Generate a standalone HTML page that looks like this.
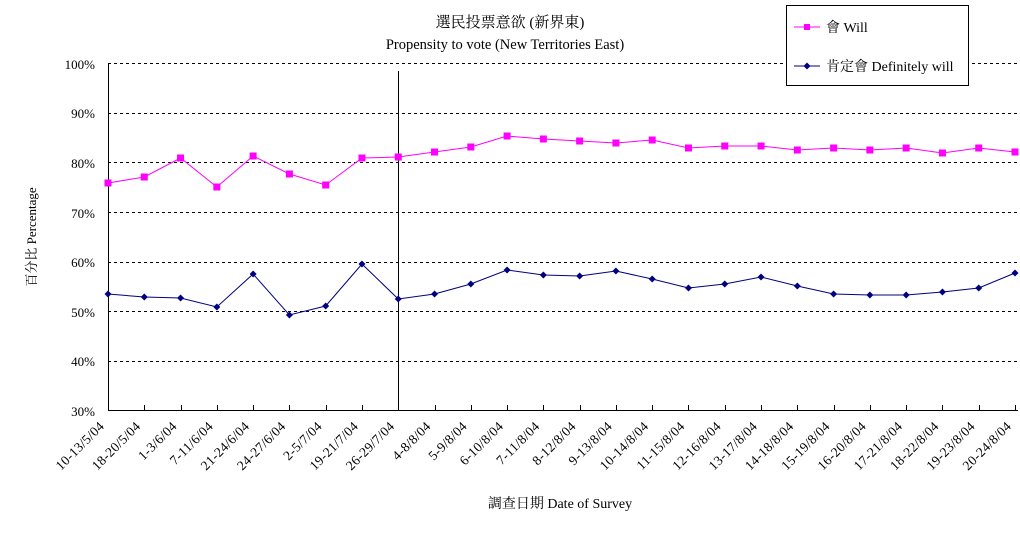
<!DOCTYPE html>
<html><head><meta charset="utf-8"><style>
body{margin:0;background:#fff}
svg text{font-family:"Liberation Serif","Noto Serif CJK SC","Noto Sans CJK TC",serif;fill:#000}
</style></head><body>
<svg width="1020" height="533" xmlns="http://www.w3.org/2000/svg">
<text x="510" y="27" font-size="15" text-anchor="middle">選民投票意欲 (新界東)</text>
<text x="505" y="49" font-size="14.5" text-anchor="middle">Propensity to vote (New Territories East)</text>
<g stroke="#000" stroke-dasharray="3,3" stroke-width="1">
<line x1="108" y1="63.5" x2="1018" y2="63.5"/><line x1="108" y1="113.5" x2="1018" y2="113.5"/>
<line x1="108" y1="162.5" x2="1018" y2="162.5"/><line x1="108" y1="212.5" x2="1018" y2="212.5"/>
<line x1="108" y1="262.5" x2="1018" y2="262.5"/><line x1="108" y1="311.5" x2="1018" y2="311.5"/>
<line x1="108" y1="361.5" x2="1018" y2="361.5"/>
</g>
<rect x="786.5" y="5.5" width="182" height="80" fill="#fff" stroke="#000"/>
<line x1="108.5" y1="63" x2="108.5" y2="411" stroke="#000"/>
<line x1="108" y1="410.5" x2="1018" y2="410.5" stroke="#000"/>
<line x1="398.5" y1="71" x2="398.5" y2="408" stroke="#000"/>
<g font-size="13" text-anchor="end">
<text x="95" y="69">100%</text><text x="95" y="118">90%</text><text x="95" y="168">80%</text>
<text x="95" y="218">70%</text><text x="95" y="267">60%</text><text x="95" y="317">50%</text>
<text x="95" y="366">40%</text><text x="95" y="416">30%</text>
</g>
<text transform="translate(36,237) rotate(-90)" font-size="13" text-anchor="middle">百分比 Percentage</text>
<text x="560" y="508" font-size="14" text-anchor="middle">調查日期 Date of Survey</text>
<g id="ticks" stroke="#000"></g>
<g id="labels" font-size="13.5" text-anchor="end" letter-spacing="0.3"></g>
<polyline id="w" fill="none" stroke="#ff00ff" stroke-width="1"/>
<polyline id="d" fill="none" stroke="#000080" stroke-width="1"/>
<g id="wm" fill="#ff00ff"></g><g id="dm" fill="#000080"></g>
<line x1="794" y1="27" x2="820" y2="27" stroke="#ff00ff"/><rect x="804" y="24" width="6" height="6" fill="#ff00ff"/>
<text x="826" y="32" font-size="14">會 Will</text>
<line x1="794" y1="66" x2="820" y2="66" stroke="#000080"/><path d="M807 62.5L810.5 66L807 69.5L803.5 66Z" fill="#000080"/>
<text x="826" y="71" font-size="14">肯定會 Definitely will</text>
</svg>
<script>
var L=["10-13/5/04","18-20/5/04","1-3/6/04","7-11/6/04","21-24/6/04","24-27/6/04","2-5/7/04","19-21/7/04","26-29/7/04","4-8/8/04","5-9/8/04","6-10/8/04","7-11/8/04","8-12/8/04","9-13/8/04","10-14/8/04","11-15/8/04","12-16/8/04","13-17/8/04","14-18/8/04","15-19/8/04","16-20/8/04","17-21/8/04","18-22/8/04","19-23/8/04","20-24/8/04"];
var W=[183,177,158,187,156,174,185,158,157,152,147,136,139,141,143,140,148,146,146,150,148,150,148,153,148,152];
var D=[294,297,298,307,274,315,306,264,299,294,284,270,275,276,271,279,288,284,277,286,294,295,295,292,288,273];
var ns="http://www.w3.org/2000/svg";
function el(t,a,p){var e=document.createElementNS(ns,t);for(var k in a)e.setAttribute(k,a[k]);document.getElementById(p).appendChild(e);return e;}
var wp=[],dp=[];
for(var i=0;i<26;i++){var x=108+i*36.28;
wp.push(x+","+W[i]);dp.push(x+","+D[i]);
if(i>0)el("line",{x1:Math.round(x)+.5,y1:405,x2:Math.round(x)+.5,y2:411},"ticks");
el("rect",{x:x-3.5,y:W[i]-3.5,width:7,height:7},"wm");
el("path",{d:"M"+x+" "+(D[i]-3.5)+"L"+(x+3.5)+" "+D[i]+"L"+x+" "+(D[i]+3.5)+"L"+(x-3.5)+" "+D[i]+"Z"},"dm");
var t=el("text",{transform:"translate("+(x-3)+",427) rotate(-45)"},"labels");t.textContent=L[i];}
document.getElementById("w").setAttribute("points",wp.join(" "));
document.getElementById("d").setAttribute("points",dp.join(" "));
</script>
</body></html>
